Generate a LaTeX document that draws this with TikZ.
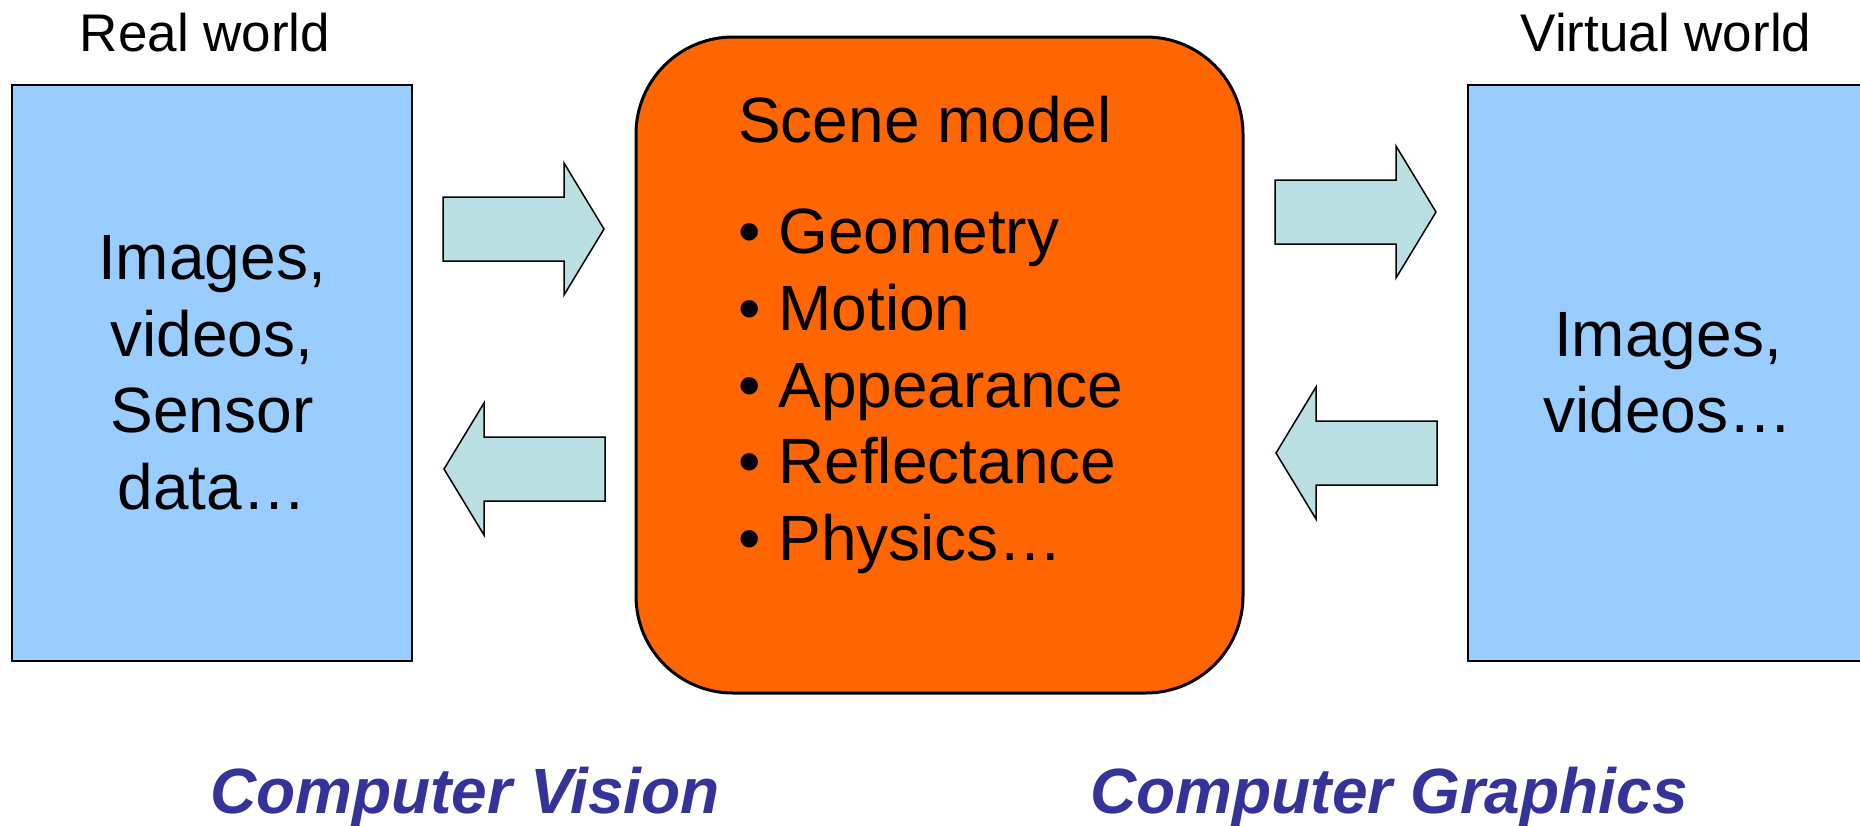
\documentclass[tikz,border=0pt]{standalone}
\usepackage{fontspec}
\setmainfont{Liberation Sans}
\definecolor{boxblue}{HTML}{99CCFF}
\definecolor{sceneorange}{HTML}{FF6600}
\definecolor{arrowfill}{HTML}{BBE0E3}
\definecolor{labelblue}{HTML}{333399}
\begin{document}
\begin{tikzpicture}[x=1pt,y=-1pt,
  worldbox/.style={draw=black, line width=2pt, fill=boxblue, minimum width=400pt,
    minimum height=576pt, inner sep=0pt, align=center,
    font=\fontsize{64}{76.5}\selectfont},
  scenebox/.style={draw=black, line width=3pt, fill=sceneorange, rounded corners=97pt,
    minimum width=607pt, minimum height=656pt, inner sep=0pt},
  scenetext/.style={inner sep=0pt, align=left, font=\fontsize{64}{76.75}\selectfont},
  worldlabel/.style={inner sep=0pt, font=\fontsize{53}{60}\selectfont},
  fieldlabel/.style={inner sep=0pt, text=labelblue,
    font=\fontsize{64}{70}\selectfont\bfseries\itshape},
  barrow/.pic={\draw[line width=1.5pt, fill=arrowfill, line join=miter]
    (-161,-32) -- (-40,-32) -- (-40,-66) -- (0,0) -- (-40,66) -- (-40,32) -- (-161,32) -- cycle;}
]
\useasboundingbox (0,0) rectangle (1860,825);
\fill[white] (0,0) rectangle (1860,825);

% world boxes
\node[worldbox] (real) at (212,373) {Images,\\videos,\\Sensor\\data…};
\node[worldbox] (virtual) at (1668,373) {Images,\\videos…};

% scene model
\node[scenebox] (scene) at (939.5,365) {};
\node[scenetext, anchor=north west] (scenelist) at (738,96)
  {Scene model\\[34.25pt]• Geometry\\• Motion\\• Appearance\\• Reflectance\\• Physics…};

% titles
\node[worldlabel, anchor=base] (realt) at (205,51) {Real world};
\node[worldlabel, anchor=base] (virtt) at (1666,51) {Virtual world};

% block arrows
\pic at (604,229) {barrow};
\pic[xscale=-1] at (444,469) {barrow};
\pic at (1436,212) {barrow};
\pic[xscale=-1] at (1276,453) {barrow};

% bottom labels
\node[fieldlabel, anchor=base] (cv) at (465,813) {Computer Vision};
\node[fieldlabel, anchor=base] (cg) at (1389,813) {Computer Graphics};
\end{tikzpicture}
\end{document}
